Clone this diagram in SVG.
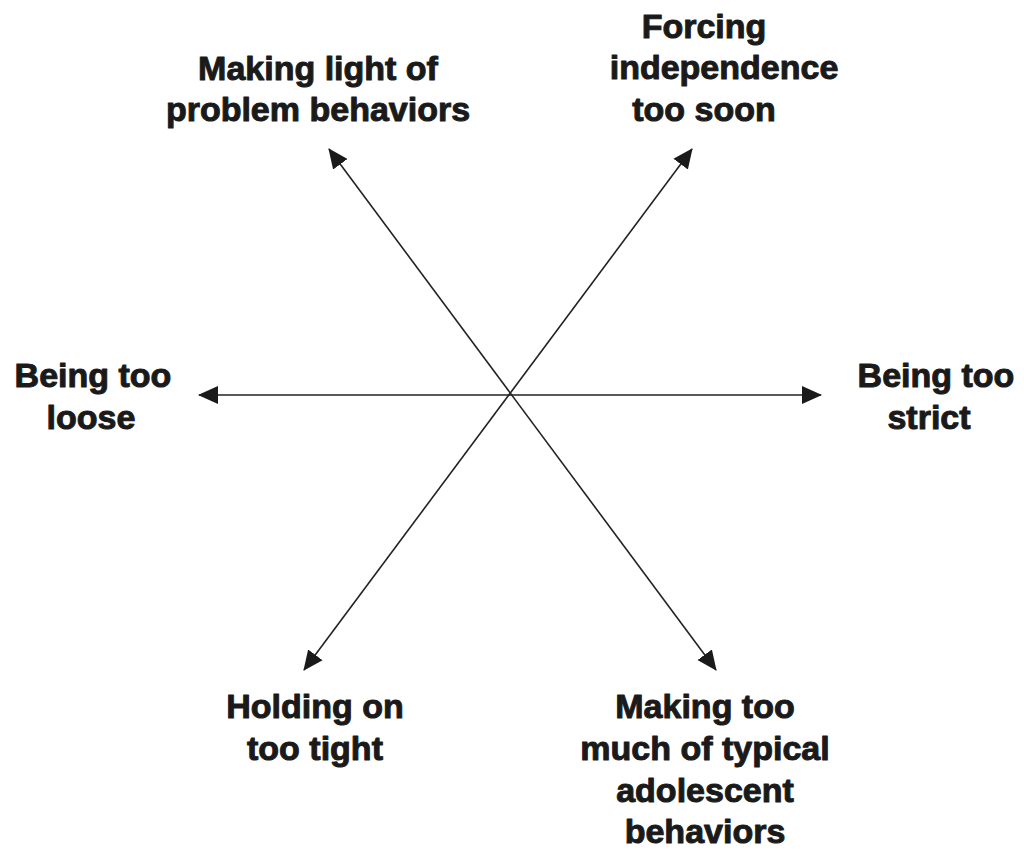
<svg xmlns="http://www.w3.org/2000/svg" width="1024" height="857" viewBox="0 0 1024 857">
<style>
.lbl{font-family:"Liberation Sans",Arial,sans-serif;font-weight:bold;font-size:34px;fill:#1a1a1a;stroke:#1a1a1a;stroke-width:1;stroke-linejoin:round;text-anchor:middle}
.ax{stroke:#222;stroke-width:1.6;fill:none}
</style>
<defs>
<marker id="ah" markerUnits="userSpaceOnUse" markerWidth="20" markerHeight="20" viewBox="0 0 20 18" refX="19" refY="9" orient="auto-start-reverse">
<path d="M0,0 L20,9 L0,18 z" fill="#1a1a1a"/>
</marker>
</defs>
<rect width="1024" height="857" fill="#fff"/>
<g id="connectors">
<line class="ax" x1="199" y1="395" x2="821" y2="395" marker-start="url(#ah)" marker-end="url(#ah)"/>
<line class="ax" x1="329" y1="149" x2="716" y2="670" marker-start="url(#ah)" marker-end="url(#ah)"/>
<line class="ax" x1="692" y1="149" x2="304" y2="670" marker-start="url(#ah)" marker-end="url(#ah)"/>
</g>
<g id="making-light">
<text class="lbl" x="318" y="80">Making light of</text>
<text class="lbl" x="318" y="121">problem behaviors</text>
</g>
<g id="forcing">
<text class="lbl" x="704" y="38">Forcing</text>
<text class="lbl" x="724" y="79">independence</text>
<text class="lbl" x="704" y="121">too soon</text>
</g>
<g id="loose">
<text class="lbl" x="93" y="387">Being too</text>
<text class="lbl" x="91" y="429">loose</text>
</g>
<g id="strict">
<text class="lbl" x="936" y="387">Being too</text>
<text class="lbl" x="929" y="429">strict</text>
</g>
<g id="holding">
<text class="lbl" x="315" y="718">Holding on</text>
<text class="lbl" x="315" y="760">too tight</text>
</g>
<g id="making-much">
<text class="lbl" x="705" y="718">Making too</text>
<text class="lbl" x="705" y="760">much of typical</text>
<text class="lbl" x="705" y="802">adolescent</text>
<text class="lbl" x="705" y="843">behaviors</text>
</g>
</svg>
